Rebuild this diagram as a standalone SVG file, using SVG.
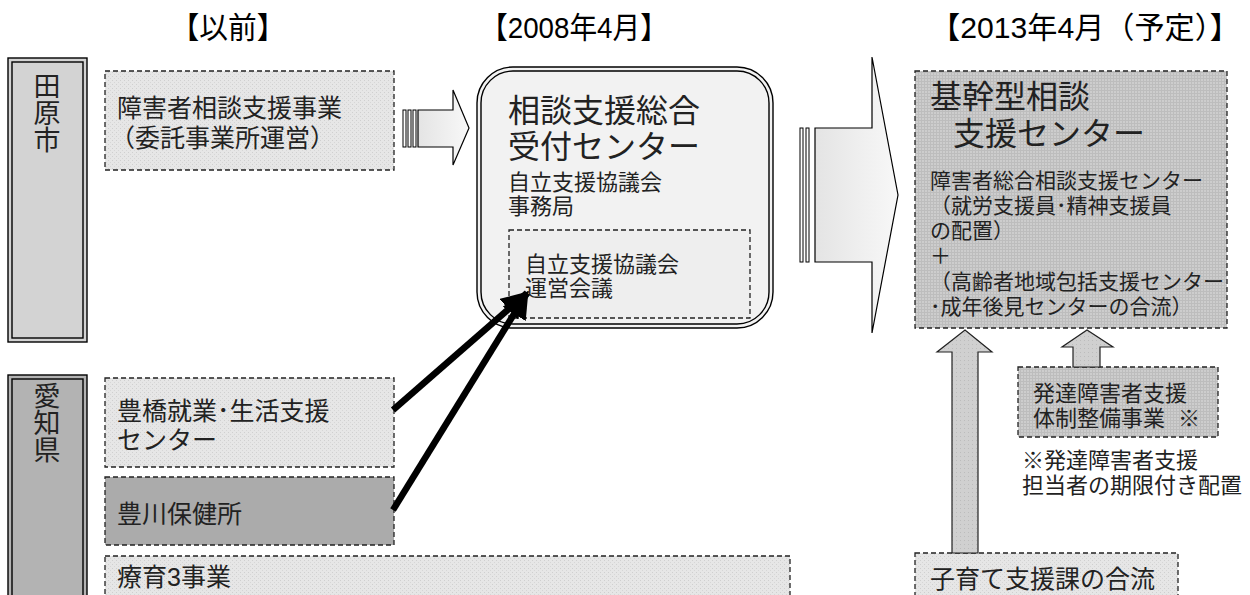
<svg xmlns="http://www.w3.org/2000/svg" width="1250" height="595" viewBox="0 0 1250 595">
<defs>
<style>
text{font-family:"Liberation Sans","Noto Sans CJK JP",sans-serif;fill:#222}
.hd{font-size:30px;fill:#000;text-anchor:middle}
.side{font-family:"Noto Sans CJK JP",sans-serif;font-size:27px;writing-mode:vertical-rl}
.t25{font-size:25px}
.t22{font-size:22px}
.t21{font-size:21px}
.t32{font-size:32px}
.dash{stroke:#222;stroke-width:1.3;stroke-dasharray:5,3}
.dbl{fill:none;stroke:#000;stroke-width:1.4}
</style>
<pattern id="pLight" width="4" height="4" patternUnits="userSpaceOnUse">
<rect width="4" height="4" fill="#e6e6e6"/><rect width="1" height="1" fill="#cfcfcf"/><rect x="2" y="2" width="1" height="1" fill="#d6d6d6"/>
</pattern>
<pattern id="pGrid" width="3" height="3" patternUnits="userSpaceOnUse">
<rect width="3" height="3" fill="#cdcdcd"/><rect width="3" height="1" fill="#bdbdbd"/><rect width="1" height="3" fill="#bdbdbd"/>
</pattern>
<pattern id="pMid" width="4" height="4" patternUnits="userSpaceOnUse">
<rect width="4" height="4" fill="#d0d0d0"/><rect width="1" height="1" fill="#bcbcbc"/>
</pattern>
<linearGradient id="gArrow" x1="0" x2="1" y1="0" y2="0">
<stop offset="0" stop-color="#e4e4e4"/><stop offset="1" stop-color="#f8f8f8"/>
</linearGradient>
<marker id="ah" viewBox="0 0 10 10" refX="9" refY="5" markerWidth="4.2" markerHeight="4.2" orient="auto" markerUnits="strokeWidth">
<path d="M0,0 L10,5 L0,10 z" fill="#000"/>
</marker>
</defs>
<rect width="1250" height="595" fill="#fff"/>

<g id="headers">
<text class="hd" x="228" y="38" textLength="115" lengthAdjust="spacingAndGlyphs">【以前】</text>
<text class="hd" x="574" y="38" textLength="188" lengthAdjust="spacingAndGlyphs">【2008年4月】</text>
<text class="hd" x="1085" y="38" textLength="310" lengthAdjust="spacingAndGlyphs">【2013年4月（予定）】</text>
</g>

<g id="side-tahara">
<rect x="8" y="58" width="79" height="284" fill="#d3d3d3" stroke="#000" stroke-width="1.4"/>
<rect x="12" y="62" width="71" height="276" class="dbl"/>
<text class="side" x="47" y="72">田原市</text>
</g>

<g id="side-aichi">
<rect x="8" y="375" width="79" height="230" fill="#b3b3b3" stroke="#000" stroke-width="1.4"/>
<rect x="12" y="379" width="71" height="230" class="dbl"/>
<text class="side" x="47" y="382">愛知県</text>
</g>

<g id="node-shogai">
<rect x="105" y="71" width="289" height="99" fill="url(#pLight)" class="dash"/>
<text class="t25"><tspan x="117" y="117">障害者相談支援事業</tspan><tspan x="110" y="147">（委託事業所運営）</tspan></text>
</g>

<g id="node-toyohashi">
<rect x="105" y="378" width="289" height="89" fill="url(#pLight)" class="dash"/>
<text class="t25"><tspan x="117" y="420">豊橋就業･生活支援</tspan><tspan x="117" y="449">センター</tspan></text>
</g>

<g id="node-toyokawa">
<rect x="105" y="477" width="289" height="68" fill="#ababab" class="dash"/>
<text class="t25" x="117" y="523">豊川保健所</text>
</g>

<g id="node-ryoiku">
<rect x="105" y="556" width="685" height="50" fill="url(#pLight)" class="dash"/>
<text class="t25" x="117" y="586">療育3事業</text>
</g>

<g id="node-center2008">
<rect x="477" y="67" width="296" height="261" rx="36" fill="#f2f2f2" stroke="#000" stroke-width="1.4"/>
<rect x="481" y="71" width="288" height="253" rx="32" class="dbl"/>
<text class="t32"><tspan x="508" y="122">相談支援総合</tspan><tspan x="508" y="158">受付センター</tspan></text>
<text class="t22"><tspan x="508" y="190">自立支援協議会</tspan><tspan x="508" y="214">事務局</tspan></text>
<rect x="509" y="230" width="241" height="88" fill="#eeeeee" class="dash"/>
<text class="t22"><tspan x="525" y="272">自立支援協議会</tspan><tspan x="525" y="296">運営会議</tspan></text>
</g>

<g id="node-kikan">
<rect x="915" y="71" width="312" height="257" fill="url(#pGrid)" class="dash"/>
<text class="t32"><tspan x="930" y="108">基幹型相談</tspan><tspan x="953" y="145">支援センター</tspan></text>
<text class="t21"><tspan x="930" y="188">障害者総合相談支援センター</tspan><tspan x="930" y="213">（就労支援員･精神支援員</tspan><tspan x="930" y="238">の配置）</tspan><tspan x="930" y="263">＋</tspan><tspan x="930" y="289">（高齢者地域包括支援センター</tspan><tspan x="930" y="314">･成年後見センターの合流）</tspan></text>
</g>

<g id="node-hattatsu">
<rect x="1018" y="367" width="200" height="70" fill="url(#pGrid)" class="dash"/>
<text class="t22"><tspan x="1033" y="401">発達障害者支援</tspan><tspan x="1033" y="426">体制整備事業</tspan><tspan x="1178" y="426">※</tspan></text>
</g>

<g id="note">
<text class="t22"><tspan x="1022" y="468">※発達障害者支援</tspan><tspan x="1022" y="493">担当者の期限付き配置</tspan></text>
</g>

<g id="node-kosodate">
<rect x="915" y="553" width="263" height="55" fill="url(#pLight)" class="dash"/>
<text class="t25" x="930" y="588">子育て支援課の合流</text>
</g>

<g id="connectors">
<g id="arrow-small">
<rect x="403" y="110" width="3" height="37" fill="#fff" stroke="#000" stroke-width="1"/>
<rect x="408" y="110" width="3" height="37" fill="#fff" stroke="#000" stroke-width="1"/>
<rect x="413" y="110" width="3" height="37" fill="#fff" stroke="#000" stroke-width="1"/>
<path d="M418,110 L453,110 L453,90 L469,128 L453,165 L453,147 L418,147 Z" fill="url(#gArrow)" stroke="#000" stroke-width="1.2"/>
</g>
<g id="arrow-big">
<rect x="800" y="128" width="3" height="134" fill="#fff" stroke="#000" stroke-width="1"/>
<rect x="806" y="128" width="3" height="134" fill="#fff" stroke="#000" stroke-width="1"/>
<path d="M815,128 L872,128 L872,57 L898,195 L872,333 L872,262 L815,262 Z" fill="url(#gArrow)" stroke="#000" stroke-width="1.2"/>
</g>
<path d="M952,553 L952,352 L937,352 L965,330 L992,352 L978,352 L978,553 Z" fill="url(#pMid)" stroke="#222" stroke-width="1.2"/>
<path d="M1073,367 L1073,347 L1062,347 L1087,330 L1113,347 L1100,347 L1100,367 Z" fill="url(#pMid)" stroke="#222" stroke-width="1.2"/>
<line x1="393" y1="410" x2="527" y2="293" stroke="#000" stroke-width="6.5" marker-end="url(#ah)"/>
<line x1="393" y1="510" x2="527" y2="293" stroke="#000" stroke-width="6.5" marker-end="url(#ah)"/>
</g>
</svg>
